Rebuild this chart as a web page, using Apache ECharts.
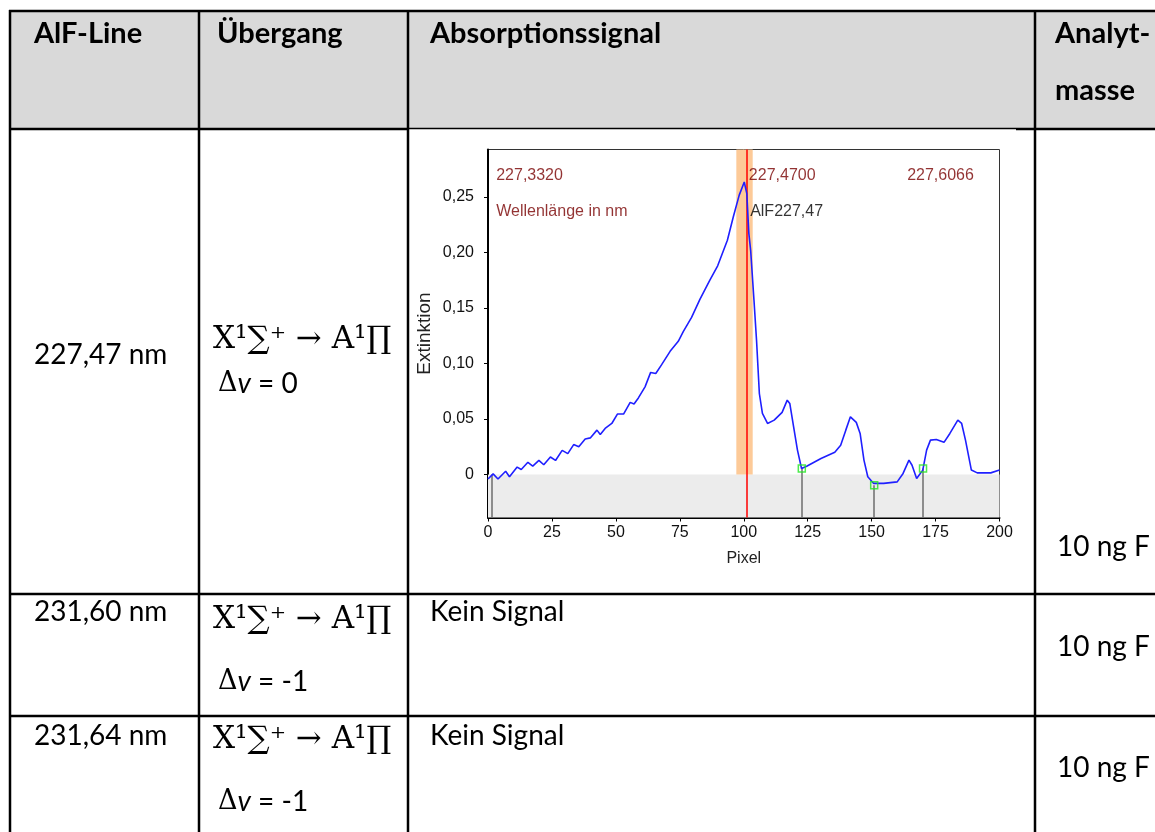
<!DOCTYPE html>
<html>
<head>
<meta charset="utf-8">
<script src="https://cdn.jsdelivr.net/npm/echarts@6/dist/echarts.min.js"></script>
<style>
  html, body { margin: 0; padding: 0; background: #fff; }
  #main { width: 1155px; height: 832px; }
</style>
</head>
<body>
<div id="main"></div>
<script>
// ---- table content ----
const headers = ['AlF-Line', 'Übergang', 'Absorptionssignal', 'Analyt-', 'masse'];
const lineNames = ['227,47 nm', '231,60 nm', '231,64 nm'];
const transitions = ['X¹∑⁺ → A¹∏', 'X¹∑⁺ → A¹∏', 'X¹∑⁺ → A¹∏'];
const deltaV = ['0', '-1', '-1'];
const signals = ['', 'Kein Signal', 'Kein Signal'];
const analyteMass = ['10 ng F', '10 ng F', '10 ng F'];

// ---- absorption spectrum (AlF 227,47 nm) ----
const pixel = [0, 2, 3.9, 6.9, 8.4, 11.4, 13, 15.6, 17.5, 19.9, 21.8, 24.4, 26.4, 29, 31.2, 33.5, 35.5,
  38, 40, 42.6, 43.9, 45.8, 48.4, 50.6, 53, 55.6, 57.1, 58.8, 61.4, 63.6, 65.6, 67.9, 71.2, 74.4, 76.4,
  79.6, 82.9, 86.7, 89.8, 93.6, 95.9, 98.2, 100.2, 101.2, 102, 102.7, 104, 105, 106.1, 107.3, 109.3,
  111.9, 115, 117, 118, 119.5, 121, 122.6, 124.6, 130.2, 135.6, 137.9, 139.9, 141.7, 144, 145.5, 147,
  148.5, 150.8, 154.7, 160, 162.3, 164.6, 165.8, 167.6, 170, 171.5, 173, 175.3, 178.3, 180.6, 183.7,
  185.2, 186.7, 189, 191.3, 196.6, 200];
const extinction = [-0.004, 0.0006, -0.004, 0.003, -0.002, 0.0067, 0.0045, 0.011, 0.0076, 0.0127, 0.0088,
  0.0158, 0.0127, 0.0218, 0.0188, 0.027, 0.025, 0.032, 0.033, 0.040, 0.036, 0.0415, 0.046, 0.0545, 0.0545,
  0.065, 0.0636, 0.069, 0.079, 0.092, 0.091, 0.099, 0.111, 0.120, 0.129, 0.1415, 0.158, 0.175, 0.188,
  0.211, 0.232, 0.2515, 0.2635, 0.253, 0.217, 0.202, 0.157, 0.121, 0.073, 0.055, 0.046, 0.049, 0.056,
  0.067, 0.064, 0.043, 0.022, 0.0054, 0.0075, 0.0144, 0.020, 0.0264, 0.040, 0.052, 0.047, 0.037, 0.013,
  -0.002, -0.008, -0.008, -0.0066, 0.001, 0.013, 0.0084, -0.0036, 0.004, 0.022, 0.031, 0.0315, 0.029,
  0.037, 0.049, 0.046, 0.031, 0.004, 0.0015, 0.0015, 0.004];

// baseline points (pixel, extinction)
const basePixels = [122.7, 151, 170.1];
const baseValues = [0.0054, -0.0096, 0.0054];
const startPixel = 1.4;

const xTicks = [0, 25, 50, 75, 100, 125, 150, 175, 200];
const yTicks = [0, 0.05, 0.10, 0.15, 0.20, 0.25];
const yMin = -0.0387;
const yMax = 0.2928;

const peakPixel = 101;
const peakBand = [97.1, 103.5];
const wavelengths = ['227,3320', '227,4700', '227,6066'];
const wavelengthPixels = [3.2, 102, 163.9];
const peakName = 'AlF227,47';
const axisUnitText = 'Wellenlänge in nm';

// ---- drawing ----
const chart = echarts.init(document.getElementById('main'), null, { renderer: 'canvas' });

const bodyFont = 'Lato';
const black = '#000';
const graphic = [];

// header background
graphic.push({ type: 'rect', shape: { x: 10, y: 11, width: 1145, height: 118 },
  style: { fill: '#d9d9d9' }, z: 0 });

// table rules
function hLine(y, x1, x2, w) {
  graphic.push({ type: 'line', shape: { x1: x1, y1: y, x2: x2, y2: y },
    style: { stroke: black, lineWidth: w }, z: 20 });
}
function vLine(x, y1, y2, w) {
  graphic.push({ type: 'line', shape: { x1: x, y1: y1, x2: x, y2: y2 },
    style: { stroke: black, lineWidth: w }, z: 20 });
}
hLine(11, 9, 1155, 2.5);
hLine(129, 9, 408, 2.5);
hLine(128.5, 408, 1016, 1.3);
hLine(129, 1016, 1155, 2.5);
hLine(594, 9, 1155, 2.5);
hLine(716, 9, 1155, 2.5);
vLine(10, 10, 832, 2.5);
vLine(199, 10, 832, 2.5);
vLine(408, 10, 832, 2.5);
vLine(1035, 10, 832, 2.5);

function text(str, x, y, opts) {
  graphic.push({ type: 'text', x: x, y: y, z: 30,
    style: Object.assign({ text: str, fill: black, font: '28px ' + bodyFont,
      textAlign: 'left', textVerticalAlign: 'middle' }, opts || {}) });
}

// header texts
const headFont = 'bold 29px ' + bodyFont;
text(headers[0], 34, 34, { font: headFont });
text(headers[1], 217, 34, { font: headFont });
text(headers[2], 430, 34, { font: headFont });
text(headers[3], 1055, 34, { font: headFont });
text(headers[4], 1055, 91, { font: headFont });

// body rows
const rowNameY = [355, 612, 736];
const rowFormulaY = [340, 620, 740];
const rowDeltaY = [384, 682, 802];
const rowMassY = [547, 647, 768];
for (let i = 0; i < lineNames.length; i++) {
  text(lineNames[i], 34, rowNameY[i]);
  text(transitions[i], 213, rowFormulaY[i], { font: '31px "DejaVu Serif"' });
  graphic.push({ type: 'text', x: 218, y: rowDeltaY[i], z: 30,
    style: { text: '{d|Δ}{v|v}{t| = ' + deltaV[i] + '}', textVerticalAlign: 'middle',
      rich: {
        d: { font: '27px "DejaVu Serif"', fill: black },
        v: { font: 'italic 28px ' + bodyFont, fill: black },
        t: { font: '28px ' + bodyFont, fill: black }
      } } });
  if (signals[i]) text(signals[i], 430, rowNameY[i]);
  text(analyteMass[i], 1057, rowMassY[i]);
}

// spectrum
const chartFont = '"Liberation Sans"';
const fmt = v => (v === 0 ? '0' : v.toFixed(2).replace('.', ','));

const spectrum = pixel.map((p, i) => [p, extinction[i]]);
const baseMarkers = basePixels.map((p, i) => [p, baseValues[i]]);

const dropLines = basePixels.map((p, i) => [
  { coord: [p, baseValues[i]], lineStyle: { color: '#6e6e6e', width: 1.5, type: 'solid' } },
  { coord: [p, yMin] }
]);
dropLines.push([
  { coord: [startPixel, 0], lineStyle: { color: '#6e6e6e', width: 1.5, type: 'solid' } },
  { coord: [startPixel, yMin] }
]);
dropLines.push([
  { coord: [peakPixel, yMin], lineStyle: { color: '#ff0000', width: 1.5, type: 'solid' } },
  { coord: [peakPixel, yMax] }
]);

const labelRow1 = 0.2696;
const labelRow2 = 0.2366;
const darkRed = '#780000';
const annotations = [
  { value: [wavelengthPixels[0], labelRow1, wavelengths[0]], label: { color: darkRed } },
  { value: [wavelengthPixels[1], labelRow1, wavelengths[1]], label: { color: darkRed } },
  { value: [wavelengthPixels[2], labelRow1, wavelengths[2]], label: { color: darkRed } },
  { value: [wavelengthPixels[0], labelRow2, axisUnitText], label: { color: darkRed } },
  { value: [102.5, labelRow2, peakName], label: { color: '#000' } }
];

const option = {
  backgroundColor: '#fff',
  animation: false,
  graphic: graphic,
  grid: { left: 488, top: 149.5, width: 511.5, height: 368, show: true,
    backgroundColor: '#fff', borderColor: '#333', borderWidth: 1 },
  xAxis: {
    type: 'value', min: 0, max: 200, interval: 25,
    name: 'Pixel', nameLocation: 'middle', nameGap: 33,
    nameTextStyle: { fontFamily: chartFont, fontSize: 16, color: '#222' },
    axisLine: { onZero: false, lineStyle: { color: '#000', width: 2 } },
    axisTick: { show: true, length: 4, lineStyle: { color: '#000' } },
    axisLabel: { fontFamily: chartFont, fontSize: 16, color: '#111', margin: 7 },
    splitLine: { show: false }
  },
  yAxis: {
    type: 'value', min: yMin, max: yMax,
    name: 'Extinktion', nameLocation: 'middle', nameGap: 54, nameRotate: 90,
    nameTextStyle: { fontFamily: chartFont, fontSize: 19, color: '#222' },
    axisLine: { show: true, lineStyle: { color: '#000', width: 2 } },
    axisTick: { show: true, length: 4, customValues: yTicks, lineStyle: { color: '#000' } },
    axisLabel: { fontFamily: chartFont, fontSize: 16, color: '#111', margin: 14,
      customValues: yTicks, formatter: fmt },
    splitLine: { show: false }
  },
  series: [
    {
      type: 'line', data: spectrum, showSymbol: false, z: 5,
      lineStyle: { color: '#1f1fff', width: 1.6 },
      markArea: {
        silent: true,
        data: [
          [{ xAxis: 0, yAxis: yMin, itemStyle: { color: '#ececec' } }, { xAxis: 200, yAxis: 0 }],
          [{ xAxis: peakBand[0], yAxis: 0, itemStyle: { color: '#fdca98' } }, { xAxis: peakBand[1], yAxis: yMax }]
        ]
      },
      markLine: { silent: true, symbol: 'none', label: { show: false }, data: dropLines }
    },
    {
      type: 'scatter', data: baseMarkers, symbol: 'rect', symbolSize: 7, z: 8,
      itemStyle: { color: 'rgba(0,0,0,0)', borderColor: '#22e622', borderWidth: 1.5 }
    },
    {
      type: 'scatter', data: annotations, symbolSize: 0, z: 9, silent: true,
      label: { show: true, position: 'right', distance: 0, fontFamily: chartFont, fontSize: 16,
        formatter: p => p.value[2] }
    }
  ]
};

chart.setOption(option);
</script>
</body>
</html>
